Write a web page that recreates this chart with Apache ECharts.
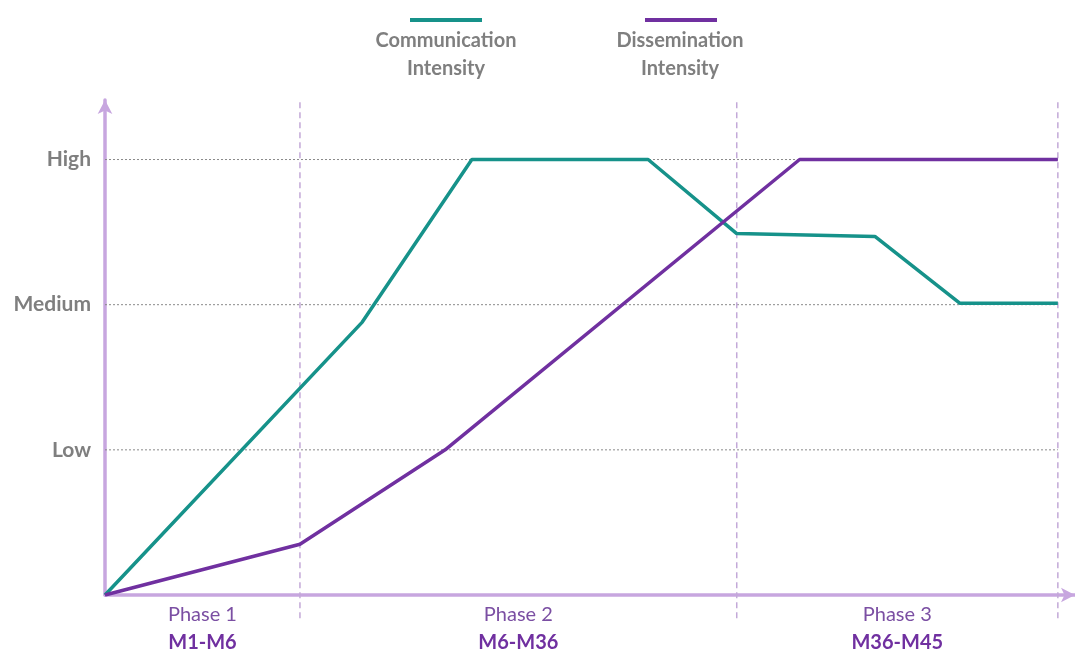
<!DOCTYPE html>
<html>
<head>
<meta charset="utf-8">
<script src="https://cdn.jsdelivr.net/npm/echarts@6/dist/echarts.min.js"></script>
<style>
  html, body { margin: 0; padding: 0; background: #fff; }
  #main { width: 1075px; height: 653px; }
</style>
</head>
<body>
<div id="main"></div>
<script>
// x in relative units: 0 = start, 100 = end of phase 3
var commX = [0, 27, 38.5, 57, 66.3, 80.8, 89.7, 100];
var commY = [0, 1.88, 3, 3, 2.49, 2.47, 2.01, 2.01];
var dissX = [0, 20.46, 35.7, 72.9, 100];
var dissY = [0, 0.35, 1, 3, 3];

var levelNames = ['', 'Low', 'Medium', 'High'];
var phaseBounds = [20.46, 66.3, 100];
var phaseNames = ['Phase 1', 'Phase 2', 'Phase 3'];
var phaseMonths = ['M1-M6', 'M6-M36', 'M36-M45'];
var phaseCenters = [10.23, 43.38, 83.15];

var seriesNames = ['Communication', 'Dissemination'];
var colors = ['#16928a', '#7030a0'];

function pairs(xs, ys) {
    return xs.map(function (x, i) { return [x, ys[i]]; });
}

var series = [];

// horizontal dotted guides at each level
[1, 2, 3].forEach(function (lv) {
    series.push({
        type: 'line', silent: true, symbol: 'none', clip: false, z: 1,
        data: [[0, lv], [100, lv]],
        lineStyle: { color: '#8a8a8a', width: 1, type: [2, 2] }
    });
});

// vertical dashed phase boundaries
phaseBounds.forEach(function (b) {
    series.push({
        type: 'line', silent: true, symbol: 'none', clip: false, z: 1,
        data: [[b, -0.16], [b, 3.41]],
        lineStyle: { color: '#c3a9d8', width: 1.5, type: [6, 4] }
    });
});

series.push({
    name: seriesNames[0], type: 'line', symbol: 'none', z: 3,
    data: pairs(commX, commY),
    lineStyle: { color: colors[0], width: 3.5 }
});
series.push({
    name: seriesNames[1], type: 'line', symbol: 'none', z: 3,
    data: pairs(dissX, dissY),
    lineStyle: { color: colors[1], width: 3.5 }
});

var myChart = echarts.init(document.getElementById('main'));

var legendFont = 'bold 20px Lato';

var option = {
    backgroundColor: '#ffffff',
    animation: false,
    grid: { left: 105, right: 0, top: 100, bottom: 55 },
    xAxis: {
        type: 'value', min: 0, max: 101.8,
        axisLine: {
            onZero: true,
            lineStyle: { color: '#c7a6df', width: 3.5 },
            symbol: ['none', 'arrow'], symbolSize: [11, 14]
        },
        axisTick: { show: false },
        splitLine: { show: false },
        axisLabel: {
            customValues: phaseCenters,
            margin: 6,
            formatter: function (v) {
                var i = phaseCenters.indexOf(v);
                if (i < 0) return '';
                return '{p|' + phaseNames[i] + '}\n{m|' + phaseMonths[i] + '}';
            },
            rich: {
                p: { fontFamily: 'Lato', fontSize: 20, color: '#7b4fa3', lineHeight: 28 },
                m: { fontFamily: 'Lato', fontSize: 20, fontWeight: 'bold', color: '#7030a0', lineHeight: 28 }
            }
        }
    },
    yAxis: {
        type: 'value', min: 0, max: 3.41, interval: 1,
        axisLine: {
            show: true,
            lineStyle: { color: '#c7a6df', width: 3.5 },
            symbol: ['none', 'arrow'], symbolSize: [11, 14]
        },
        axisTick: { show: false },
        splitLine: { show: false },
        axisLabel: {
            margin: 14,
            fontFamily: 'Lato', fontSize: 21, fontWeight: 'bold', color: '#7f7f7f',
            formatter: function (v) { return levelNames[v] || ''; }
        }
    },
    // legend drawn as line above two-line label
    graphic: [
        { type: 'rect', shape: { x: 410, y: 18, width: 72, height: 4 }, style: { fill: colors[0] } },
        { type: 'text', x: 446, y: 27, style: { text: seriesNames[0] + '\nIntensity', fill: '#7f7f7f', font: legendFont, align: 'center', verticalAlign: 'top', lineHeight: 28 } },
        { type: 'rect', shape: { x: 645, y: 18, width: 72, height: 4 }, style: { fill: colors[1] } },
        { type: 'text', x: 680, y: 27, style: { text: seriesNames[1] + '\nIntensity', fill: '#7f7f7f', font: legendFont, align: 'center', verticalAlign: 'top', lineHeight: 28 } }
    ],
    series: series
};

myChart.setOption(option);
</script>
</body>
</html>
